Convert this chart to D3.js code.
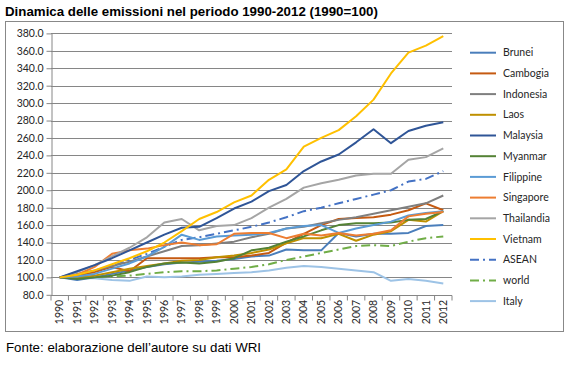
<!DOCTYPE html>
<html><head><meta charset="utf-8">
<script src="https://cdn.jsdelivr.net/npm/d3@7"></script>
<style>body{margin:0;background:#fff}svg{display:block}</style>
</head><body>
<svg id="c" width="577" height="367"></svg>
<script>
const years = ["1990","1991","1992","1993","1994","1995","1996","1997","1998","1999","2000","2001","2002","2003","2004","2005","2006","2007","2008","2009","2010","2011","2012"];
const yTicks = [80,100,120,140,160,180,200,220,240,260,280,300,320,340,360,380];
const seriesNames = ["Brunei","Cambogia","Indonesia","Laos","Malaysia","Myanmar","Filippine","Singapore","Thailandia","Vietnam","ASEAN","world","Italy"];
const brunei    = [100,97,100,104,108,112,115,117,118,119,121,124,125,132,131,131,151,147,150,150,151,159,160];
const cambogia  = [100,102,106,112,107,122,122,122,122,123,123,125,128,140,150,160,167,168,169,172,177,185,177];
const indonesia = [100,104,108,113,118,124,130,136,137,139,141,146,150,156,158,162,166,169,173,177,181,185,194];
const laos      = [100,100,102,106,110,113,116,119,120,123,125,128,132,139,145,145,150,142,149,153,166,164,176];
const malaysia  = [100,107,114,122,131,140,149,157,158,168,179,187,199,206,222,233,241,255,270,254,268,274,278];
const myanmar   = [100,98,100,102,106,112,116,117,116,118,122,131,134,141,147,154,160,162,162,163,166,167,176];
const filippine = [100,101,104,110,116,124,135,149,143,147,148,149,151,156,159,160,151,156,160,164,171,174,176];
const singapore = [100,103,112,127,131,133,137,140,137,138,150,151,151,145,150,148,151,148,150,154,170,173,175];
const thailandia= [100,106,114,124,134,146,163,167,154,159,160,168,180,190,203,208,212,217,219,219,235,238,248];
const vietnam   = [100,103,108,115,122,130,140,153,167,175,186,194,212,224,250,260,269,285,304,334,358,366,377];
const asean     = [100,103,107,113,120,127,135,143,146,150,154,158,163,169,176,180,185,190,195,200,210,213,222];
const world     = [100,100,101,101,102,104,106,107,107,108,110,112,115,120,124,128,132,136,137,136,141,145,147];
const italy     = [100,99,99,97,96,101,100,101,103,104,105,106,108,111,113,112,110,108,106,96,98,96,93];
const seriesValues = [brunei,cambogia,indonesia,laos,malaysia,myanmar,filippine,singapore,thailandia,vietnam,asean,world,italy];
const colors = ["#4A7EBB","#C55A11","#7F7F7F","#BF9000","#2F5597","#548235","#5B9BD5","#ED7D31","#A5A5A5","#FFC000","#4472C4","#70AD47","#9DC3E6"];
const dashes = [null,null,null,null,null,null,null,null,null,null,"9,4,2,4","9,4,2,4",null];

const svg = d3.select("#c");
const L = 51, R = 452, T = 33.4, B = 294.8;
const x = d3.scaleBand().domain(years).range([L, R]);
const y = d3.scaleLinear().domain([80, 380]).range([B, T]);
const cx = d => x(d) + x.bandwidth() / 2;
const axisColor = "#868686";
const font = "Lato, 'Liberation Sans', sans-serif";

// outer border
svg.append("rect").attr("x", 5.5).attr("y", 21.5).attr("width", 558).attr("height", 310)
  .attr("fill", "none").attr("stroke", "#888").attr("stroke-width", 1);

// title
svg.append("text").attr("x", 5).attr("y", 16)
  .attr("font-family", "'Liberation Sans', Arial, sans-serif").attr("font-weight", "bold")
  .attr("font-size", "13.3px").attr("fill", "#000")
  .text("Dinamica delle emissioni nel periodo 1990-2012 (1990=100)");

// gridlines
svg.append("g").selectAll("line").data(yTicks.filter(v => v > 80)).join("line")
  .attr("x1", L).attr("x2", R)
  .attr("y1", d => Math.round(y(d)) + 0.5).attr("y2", d => Math.round(y(d)) + 0.5)
  .attr("stroke", axisColor).attr("stroke-width", 1);

// y axis
const yAxis = svg.append("g").attr("transform", `translate(${L + 0.5},0)`)
  .call(d3.axisLeft(y).tickValues(yTicks).tickSize(5).tickSizeOuter(0).tickFormat(d3.format(".1f")));
yAxis.select(".domain").attr("stroke", axisColor);
yAxis.selectAll(".tick line").attr("stroke", axisColor);
yAxis.selectAll(".tick text").attr("font-family", font).attr("font-size", "10.5px").attr("fill", "#262626").attr("x", -8);

// x axis
const xAxisG = svg.append("g").attr("transform", `translate(0,${Math.round(B) + 0.5})`);
xAxisG.append("line").attr("x1", L).attr("x2", R).attr("stroke", axisColor);
xAxisG.selectAll("line.tk").data(years.concat(["end"])).join("line").attr("class", "tk")
  .attr("x1", (d, i) => (i < years.length ? x(d) : R)).attr("x2", (d, i) => (i < years.length ? x(d) : R))
  .attr("y1", 0).attr("y2", 5).attr("stroke", axisColor);
const xAxis = svg.append("g").attr("transform", `translate(0,${B})`)
  .call(d3.axisBottom(x).tickSize(0));
xAxis.select(".domain").remove();
xAxis.selectAll(".tick text")
  .attr("font-family", font).attr("font-size", "10.5px").attr("fill", "#262626")
  .attr("transform", "rotate(-90)").attr("text-anchor", "end")
  .attr("x", -5).attr("y", 0).attr("dy", "0.35em");

// lines
const line = d3.line().x((d, i) => cx(years[i])).y(d => y(d));
const order = [12,11,10,0,1,2,3,5,6,7,8,4,9];
svg.append("g").selectAll("path").data(order).join("path")
  .attr("d", i => line(seriesValues[i]))
  .attr("fill", "none").attr("stroke", i => colors[i]).attr("stroke-width", 2)
  .attr("stroke-linejoin", "round")
  .attr("stroke-dasharray", i => dashes[i]);

// legend
const lg = svg.append("g");
seriesNames.forEach((n, i) => {
  const yy = 52.7 + i * 20.7;
  lg.append("line").attr("x1", 470).attr("x2", 496).attr("y1", yy).attr("y2", yy)
    .attr("stroke", colors[i]).attr("stroke-width", 2).attr("stroke-dasharray", dashes[i]);
  lg.append("text").attr("x", 503).attr("y", yy).attr("dy", "0.35em")
    .attr("font-family", font).attr("font-size", "10.5px").attr("fill", "#262626").text(n);
});

// footer
svg.append("text").attr("x", 6).attr("y", 352)
  .attr("font-family", "'Liberation Sans', Arial, sans-serif").attr("font-size", "13.3px").attr("fill", "#000")
  .text("Fonte: elaborazione dell\u2019autore su dati WRI");
</script>
</body></html>
